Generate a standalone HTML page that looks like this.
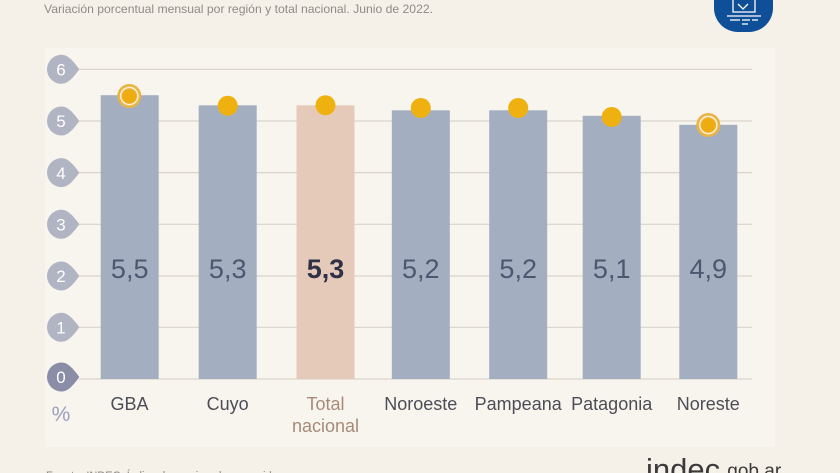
<!DOCTYPE html>
<html><head><meta charset="utf-8"><style>
html,body{margin:0;padding:0;background:#f5f1e8;}
svg{display:block;}
text{font-family:"Liberation Sans",Arial,sans-serif;}
</style></head><body>
<svg width="840" height="473" viewBox="0 0 840 473" xmlns="http://www.w3.org/2000/svg">
<rect x="0" y="0" width="840" height="473" fill="#f5f1e8"/>
<text x="44" y="13" font-size="12" fill="#8e8c88" textLength="389" lengthAdjust="spacingAndGlyphs">Variación porcentual mensual por región y total nacional. Junio de 2022.</text>
<!-- icon -->
<rect x="714" y="-30" width="59" height="62" rx="24" fill="#0f4f98"/>
<g stroke="#ffffff" stroke-width="1.3" fill="none">
<path d="M733 0 V12 H755 V0"/>
<path d="M738 4 l5 5 l5 -5"/>
<line x1="727" y1="16" x2="761" y2="16"/>
<line x1="730" y1="20" x2="740" y2="20"/><line x1="742" y1="20" x2="750" y2="20"/><line x1="752" y1="20" x2="758" y2="20"/>
<line x1="742" y1="24" x2="748" y2="24"/>
</g>
<!-- panel -->
<rect x="45" y="48" width="730" height="399" fill="#f8f5ee"/>
<!-- gridlines -->
<g stroke="#d9d4ca" stroke-width="1.2">
<line x1="79" y1="69.3" x2="752" y2="69.3"/>
<line x1="79" y1="121" x2="752" y2="121"/>
<line x1="79" y1="172.6" x2="752" y2="172.6"/>
<line x1="79" y1="224.3" x2="752" y2="224.3"/>
<line x1="79" y1="276" x2="752" y2="276"/>
<line x1="79" y1="327.3" x2="752" y2="327.3"/>
<line x1="79" y1="379" x2="752" y2="379"/>
</g>
<!-- badges -->
<g fill="#b1b4c3">
<path d="M61.5 54.8 a14.5 14.5 0 1 0 0 29 c6 0 11 -5 17.8 -14.5 c-6.8 -9.5 -11.8 -14.5 -17.8 -14.5z"/>
<path d="M61.5 106.5 a14.5 14.5 0 1 0 0 29 c6 0 11 -5 17.8 -14.5 c-6.8 -9.5 -11.8 -14.5 -17.8 -14.5z"/>
<path d="M61.5 158.1 a14.5 14.5 0 1 0 0 29 c6 0 11 -5 17.8 -14.5 c-6.8 -9.5 -11.8 -14.5 -17.8 -14.5z"/>
<path d="M61.5 209.8 a14.5 14.5 0 1 0 0 29 c6 0 11 -5 17.8 -14.5 c-6.8 -9.5 -11.8 -14.5 -17.8 -14.5z"/>
<path d="M61.5 261.5 a14.5 14.5 0 1 0 0 29 c6 0 11 -5 17.8 -14.5 c-6.8 -9.5 -11.8 -14.5 -17.8 -14.5z"/>
<path d="M61.5 312.8 a14.5 14.5 0 1 0 0 29 c6 0 11 -5 17.8 -14.5 c-6.8 -9.5 -11.8 -14.5 -17.8 -14.5z"/>
</g>
<path d="M61.5 362.5 a14.5 14.5 0 1 0 0 29 c6 0 11 -5 17.8 -14.5 c-6.8 -9.5 -11.8 -14.5 -17.8 -14.5z" fill="#8b8ca6"/>
<g fill="#ffffff" font-size="17" text-anchor="middle">
<text x="61" y="75.5">6</text>
<text x="61" y="127">5</text>
<text x="61" y="178.8">4</text>
<text x="61" y="230.5">3</text>
<text x="61" y="282">2</text>
<text x="61" y="333.5">1</text>
<text x="61" y="383">0</text>
</g>
<text x="61" y="421" font-size="21" fill="#9c9ebf" text-anchor="middle">%</text>
<!-- bars -->
<g fill="#a3afc0">
<rect x="100.7" y="95.2" width="58" height="283.8"/>
<rect x="198.7" y="105.3" width="58" height="273.7"/>
<rect x="391.8" y="110.3" width="58" height="268.7"/>
<rect x="489.2" y="110.3" width="58" height="268.7"/>
<rect x="582.7" y="115.8" width="58" height="263.2"/>
<rect x="679.3" y="124.8" width="58" height="254.2"/>
</g>
<rect x="296.5" y="105.3" width="58" height="273.7" fill="#e5cab9"/>
<!-- dots -->
<g fill="#eeb10f">
<circle cx="227.7" cy="105.8" r="10"/>
<circle cx="325.5" cy="105.3" r="10"/>
<circle cx="420.8" cy="108" r="10"/>
<circle cx="518.2" cy="108" r="10"/>
<circle cx="611.7" cy="117" r="10"/>
</g>
<g>
<circle cx="129.3" cy="96" r="12" fill="#eab445"/>
<circle cx="129.3" cy="96" r="8.6" fill="none" stroke="#fbefd2" stroke-width="1.5"/>
<circle cx="129.3" cy="96.5" r="7" fill="#eeab12"/>
</g>
<g>
<circle cx="708.3" cy="125" r="12" fill="#eab445"/>
<circle cx="708.3" cy="125" r="8.6" fill="none" stroke="#fbefd2" stroke-width="1.5"/>
<circle cx="708.3" cy="125.5" r="7" fill="#eeab12"/>
</g>
<!-- values -->
<g font-size="27" fill="#4f5671" text-anchor="middle">
<text x="129.7" y="278">5,5</text>
<text x="227.7" y="278">5,3</text>
<text x="420.8" y="278">5,2</text>
<text x="518.2" y="278">5,2</text>
<text x="611.7" y="278">5,1</text>
<text x="708.3" y="278">4,9</text>
</g>
<text x="325.5" y="278" font-size="27" font-weight="bold" fill="#2f3247" text-anchor="middle">5,3</text>
<!-- category labels -->
<g font-size="18" fill="#4d4d57" text-anchor="middle">
<text x="129.5" y="410">GBA</text>
<text x="227.7" y="410">Cuyo</text>
<text x="420.8" y="410">Noroeste</text>
<text x="518.2" y="410">Pampeana</text>
<text x="611.7" y="410">Patagonia</text>
<text x="708.3" y="410">Noreste</text>
</g>
<g font-size="18" fill="#a68b79" text-anchor="middle">
<text x="325.5" y="410">Total</text>
<text x="325.5" y="432">nacional</text>
</g>
<!-- footer -->
<text x="46" y="479" font-size="11" fill="#8a8780">Fuente: INDEC, Índice de precios al consumidor.</text>
<text x="646" y="480" font-size="31" fill="#3a3a3a">indec</text>
<text x="722" y="477" font-size="19" fill="#3a3a3a">.gob.ar</text>
</svg>
</body></html>
